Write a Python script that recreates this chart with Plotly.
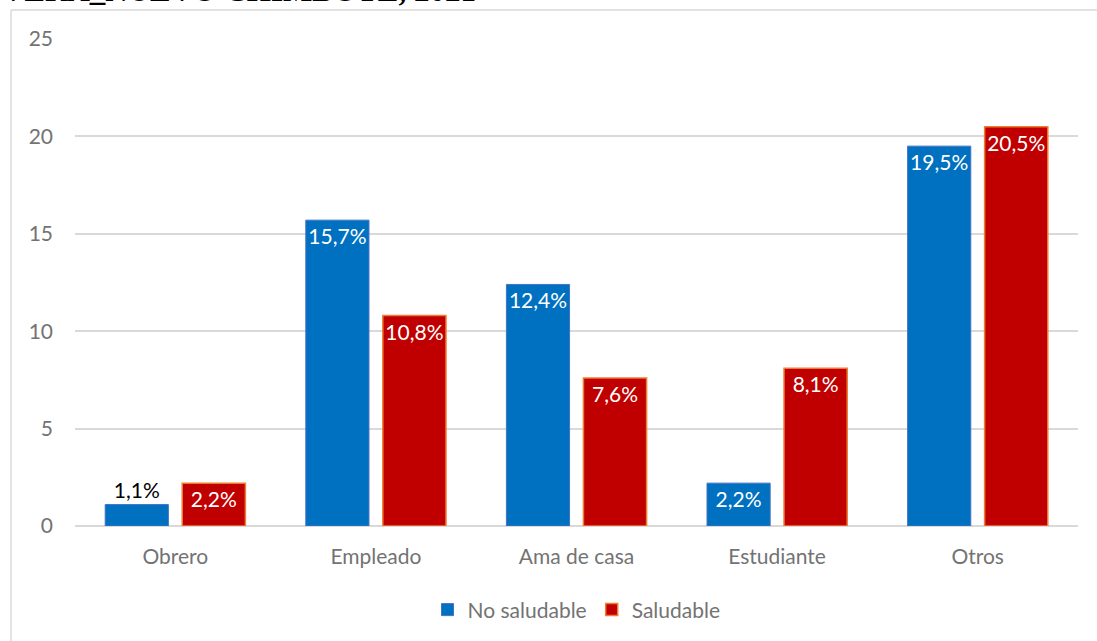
import plotly.graph_objects as go

categories = ["Obrero", "Empleado", "Ama de casa", "Estudiante", "Otros"]
no_saludable = [1.1, 15.7, 12.4, 2.2, 19.5]
saludable = [2.2, 10.8, 7.6, 8.1, 20.5]
y_ticks = [0, 5, 10, 15, 20, 25]
title_text = "VERA_NUEVO CHIMBOTE, 2021"

FONT = "Lato, Calibri, sans-serif"
GREY = "#737373"

def labels(vals):
    return [f"{v:.1f}".replace(".", ",") + "%" for v in vals]

def positions(vals):
    return ["outside" if v < 2 else "inside" for v in vals]

def colors(vals):
    return ["black" if v < 2 else "white" for v in vals]

fig = go.Figure()
fig.add_trace(go.Bar(
    name="No saludable", x=categories, y=no_saludable,
    marker=dict(color="#0070C0", line=dict(color="#4472C4", width=1)),
    text=labels(no_saludable), textposition=positions(no_saludable),
    insidetextanchor="end", textangle=0, constraintext="none",
    textfont=dict(family=FONT, size=21, color=colors(no_saludable)),
    cliponaxis=False,
))
fig.add_trace(go.Bar(
    name="Saludable", x=categories, y=saludable,
    marker=dict(color="#C00000", line=dict(color="#ED7D31", width=1.5)),
    text=labels(saludable), textposition=positions(saludable),
    insidetextanchor="end", textangle=0, constraintext="none",
    textfont=dict(family=FONT, size=21, color=colors(saludable)),
    cliponaxis=False,
))

fig.update_layout(
    width=1097, height=641,
    margin=dict(l=75, r=19, t=39, b=114),
    paper_bgcolor="white", plot_bgcolor="white",
    barmode="group", bargap=0.232, bargroupgap=0.18,
    font=dict(family=FONT, size=21, color=GREY),
    showlegend=True,
    legend=dict(orientation="h", x=0.5, xanchor="center", y=-0.17, yanchor="middle",
                font=dict(family=FONT, size=21, color=GREY), itemwidth=30),
    xaxis=dict(showgrid=False, showline=False, ticks="", tickfont=dict(size=21, color=GREY),
               ticklabelstandoff=16),
    yaxis=dict(range=[0, 25], tickvals=y_ticks, showgrid=True, gridcolor="#D9D9D9", gridwidth=1.5,
               zeroline=True, zerolinecolor="#D9D9D9", zerolinewidth=1.5,
               tickfont=dict(size=21, color=GREY), ticklabelstandoff=21),
    shapes=[
        dict(type="line", xref="paper", yref="paper", x0=-0.0638, x1=1.05, y0=1.0594, y1=1.0594,
             line=dict(color="#D9D9D9", width=1.5)),
        dict(type="line", xref="paper", yref="paper", x0=-0.0638, x1=-0.0638, y0=1.0594, y1=-0.3,
             line=dict(color="#D9D9D9", width=1.5)),
    ],
    annotations=[
        dict(text="<b>" + title_text + "</b>", xref="paper", yref="paper",
             x=-0.075, xanchor="left", y=1.059, yanchor="bottom", showarrow=False,
             font=dict(family="Liberation Serif, Times New Roman, serif", size=31, color="black")),
    ],
)

fig.write_html("out.html", config={"displayModeBar": False},
               post_script="document.body.style.margin='0px';document.body.style.overflow='hidden';")
